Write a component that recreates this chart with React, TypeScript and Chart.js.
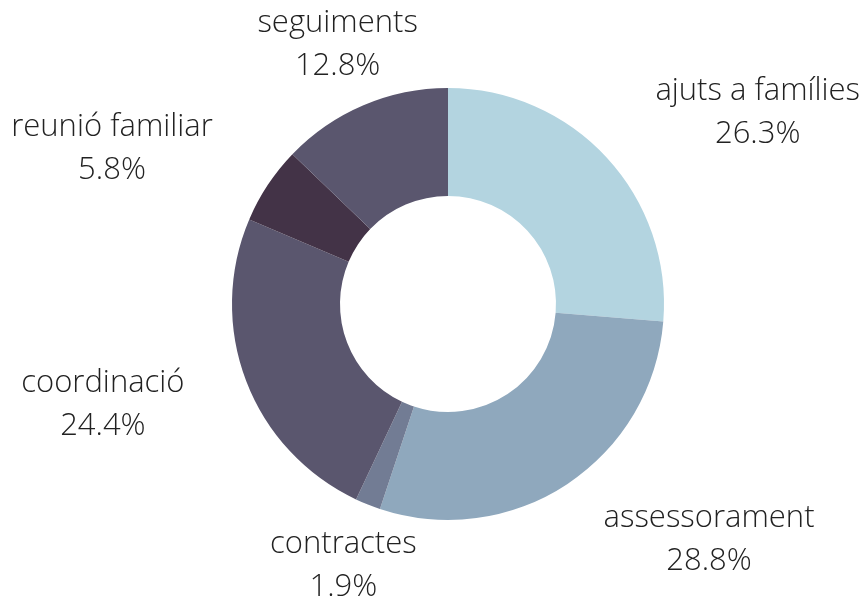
import React, { useEffect, useRef } from "react";
import { Chart, registerables } from "chart.js";

Chart.register(...registerables);

const categories = ["ajuts a famílies", "assessorament", "contractes", "coordinació", "reunió familiar", "seguiments"];
const values = [26.3, 28.8, 1.9, 24.4, 5.8, 12.8];
const colors = ["#b3d4e0", "#8fa8bd", "#727c94", "#5a566e", "#433347", "#5a566e"];

const FONT = "300 31px 'Open Sans'";
const LABEL_GAP = 66;
const LINE_H = 43;

const outLabels = {
  id: "outLabels",
  afterDatasetsDraw(chart: any) {
    const ctx = chart.ctx;
    const meta = chart.getDatasetMeta(0);
    const total = values.reduce((a, b) => a + b, 0);
    ctx.save();
    ctx.font = FONT;
    ctx.fillStyle = "#222222";
    ctx.textBaseline = "middle";
    ctx.textAlign = "center";
    meta.data.forEach((arc: any, i: number) => {
      const { x, y, startAngle, endAngle, outerRadius } = arc.getProps(["x", "y", "startAngle", "endAngle", "outerRadius"], true);
      const mid = (startAngle + endAngle) / 2;
      const r = outerRadius + LABEL_GAP;
      const ax = x + Math.cos(mid) * r;
      const ay = y + Math.sin(mid) * r;
      const lines = [categories[i], ((values[i] / total) * 100).toFixed(1) + "%"];
      const w = Math.max(...lines.map((l) => ctx.measureText(l).width));
      const c = Math.cos(mid);
      let cx = ax;
      if (c > 0.5) cx = ax + w / 2;
      else if (c < -0.5) cx = ax - w / 2;
      const h = LINE_H * lines.length;
      lines.forEach((l, j) => {
        ctx.fillText(l, cx, ay - h / 2 + LINE_H / 2 + j * LINE_H);
      });
    });
    ctx.restore();
  },
};

export default function App() {
  const ref = useRef<HTMLCanvasElement>(null);
  useEffect(() => {
    document.body.style.margin = "0";
    const chart = new Chart(ref.current as HTMLCanvasElement, {
      type: "doughnut",
      data: {
        labels: categories,
        datasets: [
          {
            data: values,
            backgroundColor: colors,
            borderWidth: 0,
            hoverOffset: 0,
          },
        ],
      },
      options: {
        animation: false,
        responsive: false,
        cutout: "50%",
        layout: { padding: { left: 232, right: 201, top: 88, bottom: 80 } },
        plugins: { legend: { display: false }, tooltip: { enabled: false } },
      },
      plugins: [outLabels],
    });
    return () => chart.destroy();
  }, []);
  return (
    <div style={{ width: 865, height: 600 }}>
      <canvas ref={ref} width={865} height={600} style={{ display: "block" }} />
    </div>
  );
}
